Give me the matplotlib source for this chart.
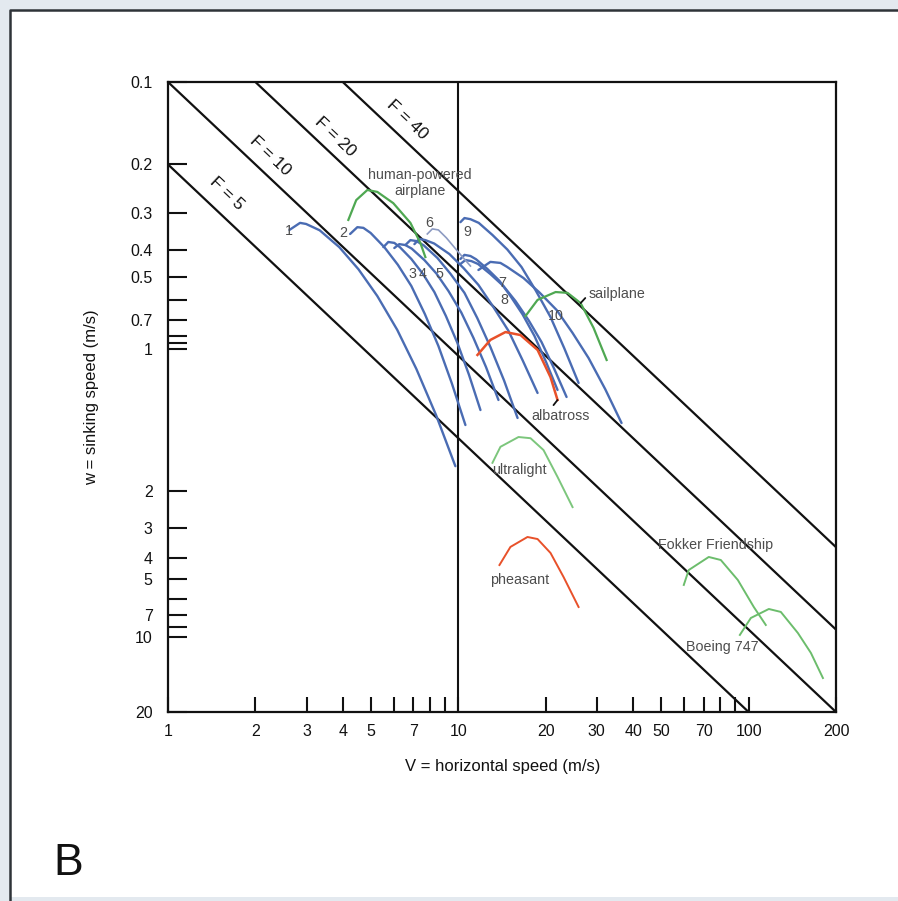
import matplotlib
matplotlib.use('Agg')
import matplotlib.pyplot as plt
from matplotlib.lines import Line2D
from matplotlib.patches import Rectangle
from matplotlib.ticker import NullLocator

plt.rcParams['font.family'] = ['Liberation Sans', 'DejaVu Sans']

# ---------------- data ----------------
# lines of constant glide ratio F = V / w
F_values = [5, 10, 20, 40]
F_texts = ['F = 5', 'F = 10', 'F = 20', 'F = 40']
V_span = [1.0, 200.0]

# numbered glide polars (blue) : V (m/s), w (m/s)
p1_V = [2.62, 2.85, 2.99, 3.33, 3.89, 4.53, 5.26, 6.16, 7.17, 8.38, 9.77]
p1_w = [0.347, 0.327, 0.330, 0.348, 0.401, 0.483, 0.605, 0.804, 1.117, 1.645, 2.53]
p2_V = [4.24, 4.49, 4.71, 4.99, 5.56, 6.19, 6.89, 7.67, 8.54, 9.50, 10.58]
p2_w = [0.359, 0.339, 0.341, 0.356, 0.401, 0.465, 0.556, 0.704, 0.921, 1.261, 1.79]
p3_V = [5.52, 5.74, 6.02, 6.29, 6.89, 7.55, 8.27, 9.06, 9.93, 10.88, 11.92]
p3_w = [0.401, 0.384, 0.387, 0.401, 0.443, 0.502, 0.585, 0.715, 0.898, 1.172, 1.578]
p3b_V = [6.02, 6.26, 6.57, 6.91, 7.64, 8.41, 9.25, 10.24, 11.28, 12.46, 13.75]
p3b_w = [0.404, 0.391, 0.394, 0.406, 0.447, 0.501, 0.580, 0.695, 0.861, 1.100, 1.450]
p4_V = [6.57, 6.84, 7.17, 7.60, 8.47, 9.40, 10.50, 11.63, 12.90, 14.38, 16.0]
p4_w = [0.394, 0.378, 0.381, 0.395, 0.439, 0.502, 0.589, 0.729, 0.929, 1.232, 1.687]
p5_V = [7.06, 7.34, 7.70, 8.26, 9.32, 10.44, 11.73, 13.19, 14.89, 16.68, 18.75]
p5_w = [0.391, 0.374, 0.378, 0.389, 0.425, 0.479, 0.551, 0.662, 0.811, 1.042, 1.367]
p6_V = [7.82, 8.14, 8.54, 9.10, 10.0, 11.01]
p6_w = [0.359, 0.344, 0.347, 0.371, 0.418, 0.470]
p7_V = [10.17, 10.50, 11.01, 11.51, 12.60, 13.85, 15.12, 16.65, 18.30, 20.04, 21.97]
p7_w = [0.443, 0.428, 0.432, 0.444, 0.482, 0.532, 0.605, 0.706, 0.847, 1.051, 1.333]
p8_V = [10.17, 10.58, 11.10, 11.69, 12.90, 14.30, 15.74, 17.47, 19.35, 21.35, 23.60]
p8_w = [0.462, 0.447, 0.451, 0.462, 0.503, 0.556, 0.631, 0.742, 0.891, 1.110, 1.414]
p9_V = [10.17, 10.50, 11.01, 11.76, 13.11, 14.75, 16.51, 18.49, 20.78, 23.19, 25.96]
p9_w = [0.325, 0.314, 0.317, 0.327, 0.362, 0.409, 0.474, 0.578, 0.722, 0.940, 1.257]
p10_V = [11.73, 12.90, 13.97, 14.70, 16.77, 19.06, 21.80, 24.73, 28.1, 32.07, 36.5]
p10_w = [0.486, 0.454, 0.458, 0.473, 0.520, 0.588, 0.680, 0.824, 1.019, 1.324, 1.760]

# named polars
hpa_V = [4.18, 4.45, 4.86, 5.26, 5.97, 6.84, 7.40, 7.70]
hpa_w = [0.319, 0.270, 0.248, 0.252, 0.277, 0.327, 0.387, 0.436]
sail_V = [17.04, 18.75, 21.63, 23.78, 26.38, 29.24, 32.43]
sail_w = [0.716, 0.625, 0.585, 0.589, 0.642, 0.791, 1.036]
alba_V = [11.64, 12.90, 14.54, 16.38, 18.75, 20.78, 21.97]
alba_w = [0.993, 0.875, 0.819, 0.840, 0.952, 1.197, 1.450]
ultra_V = [13.11, 13.97, 16.12, 17.73, 19.66, 21.97, 24.75]
ultra_w = [2.46, 2.15, 1.98, 2.00, 2.21, 2.77, 3.57]
phea_V = [13.86, 15.12, 17.31, 18.75, 20.78, 23.05, 25.96]
phea_w = [5.81, 4.99, 4.59, 4.67, 5.25, 6.43, 8.27]
fokker_V = [59.8, 62.2, 72.9, 80.2, 91.8, 104.2, 114.6]
fokker_w = [6.87, 6.06, 5.43, 5.57, 6.59, 8.27, 9.62]
boeing_V = [93.3, 101.8, 117.4, 129.1, 147.8, 163.9, 180.3]
boeing_w = [10.46, 9.07, 8.41, 8.62, 10.29, 12.17, 15.03]

# axis ticks
xtick_values = [1, 2, 3, 4, 5, 6, 7, 8, 9, 10, 20, 30, 40, 50, 60, 70, 80, 90, 100, 200]
xtick_labels = ['1', '2', '3', '4', '5', '', '7', '', '', '10', '20', '30', '40', '50',
                '', '70', '', '', '100', '200']
# the reference draws its w-scale ticks at these places
ytick_values = [0.1, 0.2, 0.3, 0.41, 0.515, 0.625, 0.74, 0.847, 0.898, 0.945,
                3.12, 4.26, 5.48, 6.54, 7.73, 8.85, 9.78, 10.64, 20]
ytick_labels = ['0.1', '0.2', '0.3', '0.4', '0.5', '', '0.7', '', '', '1',
                '2', '3', '4', '5', '', '7', '', '10', '20']

# ---------------- figure ----------------
W, H = 898, 901
fig = plt.figure(figsize=(W / 100, H / 100), dpi=100, facecolor='#e3e9ef')

# white panel with dark top/left border
fig.patches.append(Rectangle((10 / W, 4 / H), 1.0, (897 - 10) / H, transform=fig.transFigure,
                             facecolor='white', edgecolor='none', zorder=-10))
fig.lines.append(Line2D([10 / W, 10 / W, 1.0], [0.0, 1 - 10 / H, 1 - 10 / H],
                        transform=fig.transFigure, color='#2e3338', lw=1.8, zorder=-5))

ax_l, ax_r, ax_t, ax_b = 168, 836, 82, 712
ax = fig.add_axes([ax_l / W, 1 - ax_b / H, (ax_r - ax_l) / W, (ax_b - ax_t) / H])
ax.set_facecolor('none')
ax.set_xscale('log')
ax.set_yscale('log')
ax.set_xlim(1, 200)
ax.set_ylim(20, 0.1)

for s in ax.spines.values():
    s.set_linewidth(1.6)
    s.set_color('#111111')

ax.set_xticks(xtick_values, xtick_labels)
ax.set_yticks(ytick_values, ytick_labels)
ax.xaxis.set_minor_locator(NullLocator())
ax.yaxis.set_minor_locator(NullLocator())
ax.tick_params(axis='x', direction='in', length=11, width=1.5, pad=9, labelsize=11.5,
               colors='#111111')
ax.tick_params(axis='y', direction='in', length=14, width=1.5, pad=11, labelsize=11.5,
               colors='#111111')

# constant glide-ratio lines
for F in F_values:
    ax.plot(V_span, [v / F for v in V_span], color='#111111', lw=1.6, zorder=2)
ax.axvline(10, color='#111111', lw=1.5, zorder=2)

def axpos(px, py):
    return ((px - ax_l) / (ax_r - ax_l), 1 - (py - ax_t) / (ax_b - ax_t))

for txt, (px, py) in zip(F_texts, [(227, 194), (270, 156), (335, 137), (407, 120)]):
    ax.text(*axpos(px, py), txt, transform=ax.transAxes, rotation=-43.4,
            ha='center', va='center', fontsize=12.5, color='#111111')

blue = '#4a6cb3'
for V, w in [(p1_V, p1_w), (p2_V, p2_w), (p3_V, p3_w), (p3b_V, p3b_w), (p4_V, p4_w),
             (p5_V, p5_w), (p7_V, p7_w), (p8_V, p8_w), (p9_V, p9_w), (p10_V, p10_w)]:
    ax.plot(V, w, color=blue, lw=1.7, zorder=3, solid_capstyle='round',
            solid_joinstyle='round')
ax.plot(p6_V, p6_w, color='#8d9bc2', lw=1.2, zorder=3, solid_joinstyle='round')

for V, w, c, lw in [(hpa_V, hpa_w, '#4fa852', 1.6), (sail_V, sail_w, '#4fa852', 1.6),
                    (ultra_V, ultra_w, '#7cc67c', 1.4), (fokker_V, fokker_w, '#6cbd6c', 1.4),
                    (boeing_V, boeing_w, '#6cbd6c', 1.4), (alba_V, alba_w, '#e8512a', 1.8),
                    (phea_V, phea_w, '#e8512a', 1.4)]:
    ax.plot(V, w, color=c, lw=lw, zorder=3, solid_joinstyle='round')

lab_col = '#4d4d4d'
lab_fs = 10.3
num_labels = [('1', 289, 231), ('2', 343, 233), ('6', 429, 223), ('9', 467, 232),
              ('3', 412, 274), ('4', 423, 274), ('5', 439, 274),
              ('7', 502, 283), ('8', 504, 300), ('10', 556, 316)]
for t, px, py in num_labels:
    ax.text(*axpos(px, py), t, transform=ax.transAxes, ha='center', va='center',
            fontsize=10.3, color=lab_col, zorder=5)

ax.text(*axpos(420, 183), 'human-powered\nairplane', transform=ax.transAxes,
        ha='center', va='center', fontsize=lab_fs, color=lab_col, linespacing=1.1, zorder=5)
ax.text(*axpos(519, 470), 'ultralight', transform=ax.transAxes, ha='center', va='center',
        fontsize=lab_fs, color=lab_col, zorder=5)
ax.text(*axpos(520, 580), 'pheasant', transform=ax.transAxes, ha='center', va='center',
        fontsize=lab_fs, color=lab_col, zorder=5)
ax.text(*axpos(716, 545), 'Fokker Friendship', transform=ax.transAxes, ha='center',
        va='center', fontsize=lab_fs, color=lab_col, zorder=5)
ax.text(*axpos(722, 647), 'Boeing 747', transform=ax.transAxes, ha='center', va='center',
        fontsize=lab_fs, color=lab_col, zorder=5)

ax.annotate('sailplane', xy=(sail_V[4], sail_w[4]), xytext=axpos(589, 294),
            textcoords='axes fraction', ha='left', va='center', fontsize=lab_fs, color=lab_col,
            arrowprops=dict(arrowstyle='-', color='#111111', lw=1.3, shrinkA=1, shrinkB=0,
                            relpos=(0, 0.5)), zorder=5)
ax.annotate('albatross', xy=(alba_V[-1], alba_w[-1]), xytext=axpos(561, 416),
            textcoords='axes fraction', ha='center', va='center', fontsize=lab_fs, color=lab_col,
            arrowprops=dict(arrowstyle='-', color='#111111', lw=1.3, shrinkA=1, shrinkB=0,
                            relpos=(0.32, 1.0)), zorder=5)

fig.text(503 / W, 1 - 766 / H, 'V = horizontal speed (m/s)', ha='center', va='center',
         fontsize=12, color='#111111')
fig.text(92 / W, 1 - 397 / H, 'w = sinking speed (m/s)', ha='center', va='center',
         rotation=90, fontsize=12, color='#111111')
fig.text(53 / W, 1 - 875 / H, 'B', ha='left', va='baseline', fontsize=32, color='#111111')

fig.savefig('out.png', dpi=100, facecolor=fig.get_facecolor())
